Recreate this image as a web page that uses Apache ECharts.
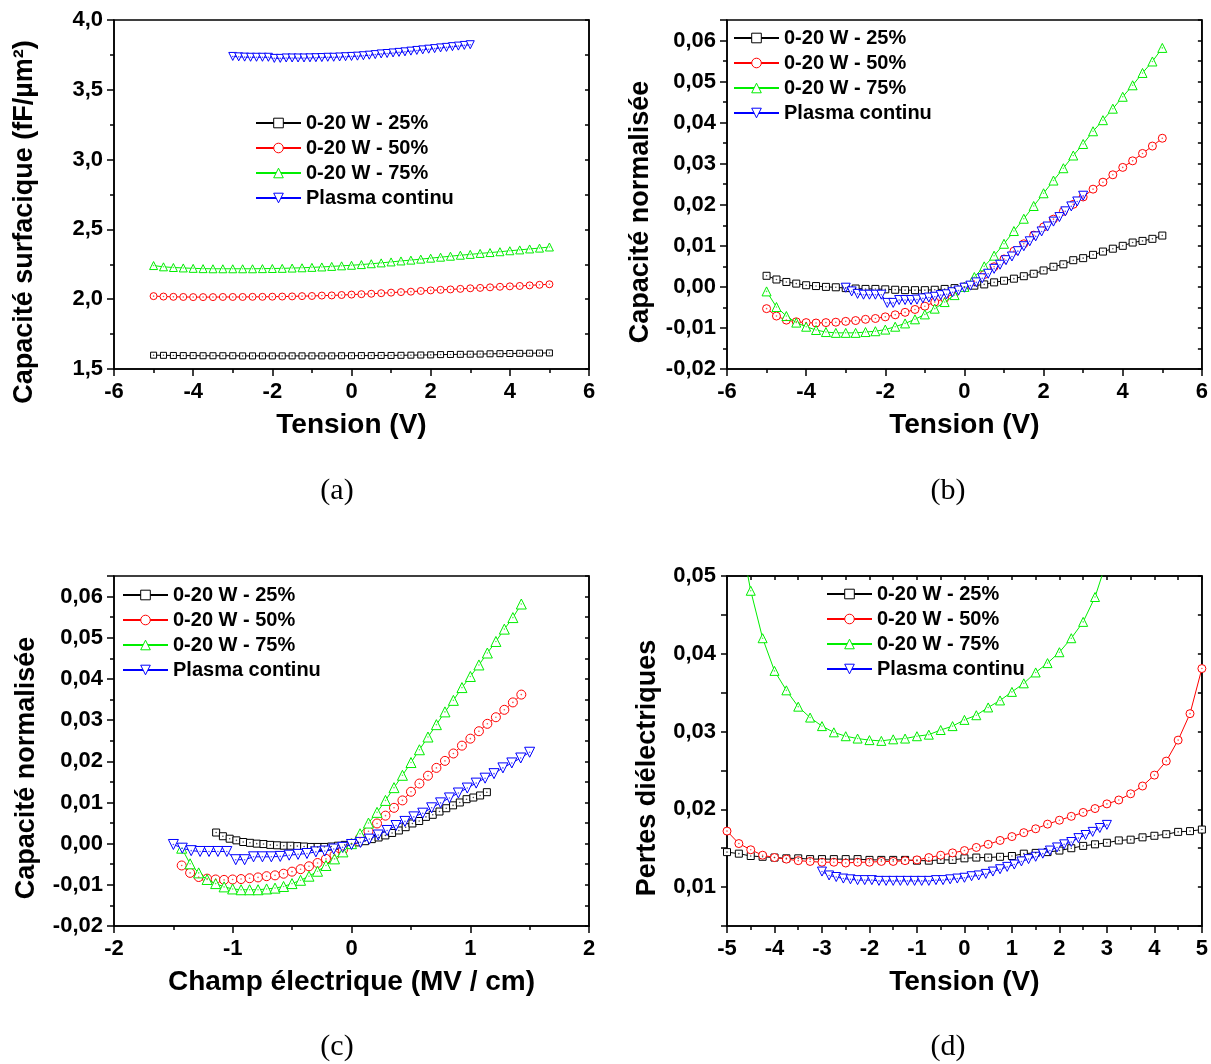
<!DOCTYPE html>
<html>
<head>
<meta charset="utf-8">
<script src="https://cdn.jsdelivr.net/npm/echarts@6/dist/echarts.min.js"></script>
<style>html,body{margin:0;padding:0;background:#fff}#c{width:1211px;height:1064px}</style>
</head>
<body>
<div id="c"></div>
<script>
// ---------- DATA ----------
const names = ['0-20 W - 25%', '0-20 W - 50%', '0-20 W - 75%', 'Plasma continu'];
const colors = ['#000000', '#ff0000', '#00ee00', '#0000ff'];

// voltage grids (V)
const voltage = [-5,-4.75,-4.5,-4.25,-4,-3.75,-3.5,-3.25,-3,-2.75,-2.5,-2.25,-2,-1.75,-1.5,-1.25,-1,-0.75,-0.5,-0.25,0,0.25,0.5,0.75,1,1.25,1.5,1.75,2,2.25,2.5,2.75,3,3.25,3.5,3.75,4,4.25,4.5,4.75,5];
const voltageBlue = [-3,-2.85,-2.7,-2.55,-2.4,-2.25,-2.1,-1.95,-1.8,-1.65,-1.5,-1.35,-1.2,-1.05,-0.9,-0.75,-0.6,-0.45,-0.3,-0.15,0,0.15,0.3,0.45,0.6,0.75,0.9,1.05,1.2,1.35,1.5,1.65,1.8,1.95,2.1,2.25,2.4,2.55,2.7,2.85,3];

// electric field grids (MV/cm)
const field25 = [-1.140,-1.083,-1.026,-0.969,-0.912,-0.855,-0.798,-0.741,-0.684,-0.627,-0.570,-0.513,-0.456,-0.399,-0.342,-0.285,-0.228,-0.171,-0.114,-0.057,0,0.057,0.114,0.171,0.228,0.285,0.342,0.399,0.456,0.513,0.570,0.627,0.684,0.741,0.798,0.855,0.912,0.969,1.026,1.083,1.140];
const field5075 = [-1.430,-1.359,-1.287,-1.216,-1.144,-1.073,-1.001,-0.930,-0.858,-0.787,-0.715,-0.644,-0.572,-0.501,-0.429,-0.358,-0.286,-0.215,-0.143,-0.072,0,0.072,0.143,0.215,0.286,0.358,0.429,0.501,0.572,0.644,0.715,0.787,0.858,0.930,1.001,1.073,1.144,1.216,1.287,1.359,1.430];
const fieldBlue = [-1.5,-1.425,-1.35,-1.275,-1.2,-1.125,-1.05,-0.975,-0.9,-0.825,-0.75,-0.675,-0.6,-0.525,-0.45,-0.375,-0.3,-0.225,-0.15,-0.075,0,0.075,0.15,0.225,0.3,0.375,0.45,0.525,0.6,0.675,0.75,0.825,0.9,0.975,1.05,1.125,1.2,1.275,1.35,1.425,1.5];

// (a) surface capacitance (fF/µm²)
const capA25 = [1.599,1.598,1.597,1.596,1.596,1.595,1.595,1.595,1.595,1.594,1.594,1.594,1.594,1.594,1.594,1.594,1.594,1.594,1.594,1.595,1.595,1.596,1.596,1.597,1.597,1.598,1.599,1.600,1.601,1.603,1.604,1.605,1.606,1.607,1.609,1.610,1.611,1.612,1.613,1.614,1.615];
const capA50 = [2.022,2.019,2.017,2.016,2.015,2.015,2.015,2.016,2.016,2.016,2.017,2.017,2.018,2.019,2.020,2.022,2.023,2.026,2.027,2.030,2.033,2.036,2.039,2.043,2.047,2.051,2.054,2.059,2.063,2.067,2.070,2.074,2.078,2.081,2.085,2.089,2.092,2.095,2.099,2.103,2.107];
const capA75 = [2.241,2.232,2.227,2.224,2.221,2.219,2.218,2.218,2.218,2.218,2.218,2.219,2.220,2.221,2.223,2.225,2.228,2.231,2.235,2.239,2.243,2.248,2.254,2.260,2.267,2.274,2.280,2.287,2.294,2.301,2.308,2.315,2.321,2.328,2.334,2.340,2.347,2.353,2.360,2.366,2.374];
const capAPc = [3.739,3.736,3.734,3.733,3.733,3.733,3.733,3.725,3.725,3.728,3.728,3.728,3.728,3.729,3.730,3.731,3.733,3.733,3.735,3.737,3.739,3.741,3.744,3.748,3.752,3.757,3.760,3.764,3.768,3.772,3.777,3.782,3.786,3.791,3.795,3.800,3.804,3.809,3.813,3.818,3.823];

// (b)/(c) normalised capacitance
const norm25 = [0.0027,0.0018,0.0012,0.0008,0.0004,0.0002,0.0000,-0.0001,-0.0003,-0.0004,-0.0005,-0.0005,-0.0006,-0.0007,-0.0008,-0.0008,-0.0008,-0.0007,-0.0005,-0.0003,0.0000,0.0003,0.0006,0.0011,0.0015,0.0020,0.0026,0.0032,0.0040,0.0049,0.0055,0.0065,0.0070,0.0078,0.0086,0.0093,0.0100,0.0108,0.0112,0.0117,0.0125];
const norm50 = [-0.0053,-0.0071,-0.0081,-0.0085,-0.0087,-0.0088,-0.0087,-0.0086,-0.0084,-0.0082,-0.0079,-0.0077,-0.0073,-0.0068,-0.0062,-0.0055,-0.0047,-0.0037,-0.0028,-0.0015,0,0.0014,0.0030,0.0049,0.0068,0.0087,0.0105,0.0126,0.0146,0.0165,0.0184,0.0201,0.0219,0.0238,0.0255,0.0273,0.0291,0.0307,0.0325,0.0343,0.0362];
const norm75 = [-0.0011,-0.0049,-0.0071,-0.0087,-0.0097,-0.0105,-0.0110,-0.0112,-0.0112,-0.0112,-0.0110,-0.0108,-0.0104,-0.0097,-0.0089,-0.0079,-0.0067,-0.0053,-0.0037,-0.0020,0,0.0024,0.0050,0.0076,0.0105,0.0136,0.0166,0.0197,0.0228,0.0259,0.0289,0.0320,0.0348,0.0379,0.0406,0.0434,0.0463,0.0491,0.0521,0.0549,0.0582];
const normPc = [-0.0002,-0.0011,-0.0017,-0.0019,-0.0019,-0.0019,-0.0019,-0.0039,-0.0039,-0.0032,-0.0032,-0.0032,-0.0031,-0.0028,-0.0026,-0.0024,-0.0020,-0.0018,-0.0013,-0.0009,-0.0002,0.0003,0.0011,0.0021,0.0032,0.0044,0.0054,0.0065,0.0074,0.0087,0.0099,0.0111,0.0123,0.0135,0.0147,0.0159,0.0170,0.0184,0.0196,0.0208,0.0222];

// (d) dielectric losses
const loss25 = [0.0145,0.0143,0.0140,0.0139,0.0138,0.0137,0.0137,0.0136,0.0136,0.0136,0.0136,0.0136,0.0135,0.0135,0.0135,0.0135,0.0134,0.0134,0.0135,0.0135,0.0137,0.0138,0.0138,0.0139,0.0140,0.0143,0.0144,0.0145,0.0147,0.0150,0.0153,0.0155,0.0157,0.0160,0.0161,0.0164,0.0166,0.0168,0.0171,0.0172,0.0174];
const loss50 = [0.0172,0.0156,0.0148,0.0141,0.0138,0.0136,0.0134,0.0133,0.0132,0.0132,0.0131,0.0132,0.0132,0.0133,0.0133,0.0134,0.0135,0.0138,0.0141,0.0144,0.0147,0.0151,0.0155,0.0160,0.0165,0.0170,0.0175,0.0181,0.0186,0.0191,0.0196,0.0201,0.0207,0.0212,0.0220,0.0230,0.0244,0.0262,0.0289,0.0323,0.0381];
const loss75 = [0.066,0.056,0.0481,0.0420,0.0378,0.0353,0.0332,0.0318,0.0307,0.0299,0.0294,0.0291,0.0289,0.0288,0.0290,0.0291,0.0294,0.0296,0.0302,0.0307,0.0315,0.0321,0.0331,0.0340,0.0351,0.0362,0.0376,0.0388,0.0402,0.0420,0.0441,0.0473,0.052,0.058,null,null,null,null,null,null,null];
const lossPc = [0.0120,0.0115,0.0113,0.0111,0.0110,0.0109,0.0109,0.0109,0.0108,0.0108,0.0108,0.0108,0.0108,0.0108,0.0108,0.0108,0.0109,0.0109,0.0110,0.0111,0.0112,0.0114,0.0115,0.0117,0.0120,0.0123,0.0126,0.0129,0.0133,0.0136,0.0139,0.0143,0.0147,0.0151,0.0155,0.0158,0.0163,0.0167,0.0171,0.0176,0.0180];

// ---------- STYLE / LAYOUT ----------
const FONT = '"Liberation Sans", Arial, sans-serif';
const grids = [
  {left: 114, top: 20, width: 475, height: 349},
  {left: 727, top: 20, width: 475, height: 349},
  {left: 114, top: 576, width: 475, height: 350},
  {left: 727, top: 576, width: 475, height: 350}
];
const symbols = ['rect', 'circle', 'triangle', 'triangle'];
const rotations = [0, 0, 0, 180];

function fmtComma(d) { return v => v.toFixed(d).replace('.', ','); }
function onlyMultiples(step, d) {
  return v => {
    const r = v / step;
    if (Math.abs(r - Math.round(r)) > 1e-6) return '';
    return v.toFixed(d).replace('.', ',');
  };
}
const labelStyle = {color: '#000', fontSize: 22, fontWeight: 'bold', fontFamily: FONT};
const axisLineStyle = {color: '#000', width: 1.5};

function xAxisBottom(gi, min, max, interval, minorSplit, name) {
  return {
    type: 'value', gridIndex: gi, position: 'bottom', min, max, interval,
    axisLine: {show: true, onZero: false, lineStyle: axisLineStyle},
    axisTick: {show: true, inside: false, length: 7, lineStyle: axisLineStyle},
    minorTick: {show: true, splitNumber: minorSplit, length: 4, lineStyle: axisLineStyle},
    splitLine: {show: false}, minorSplitLine: {show: false},
    axisLabel: Object.assign({margin: 12, showMinLabel: true, showMaxLabel: true, formatter: v => String(Math.round(v * 1000) / 1000)}, labelStyle),
    name, nameLocation: 'middle', nameGap: 42,
    nameTextStyle: {color: '#000', fontSize: 28, fontWeight: 'bold', fontFamily: FONT}
  };
}
function xAxisTop(gi, min, max, interval, minorSplit) {
  return {
    type: 'value', gridIndex: gi, position: 'top', min, max, interval,
    axisLine: {show: true, onZero: false, lineStyle: axisLineStyle},
    axisTick: {show: true, inside: true, length: 4, lineStyle: axisLineStyle},
    minorTick: {show: true, splitNumber: minorSplit, length: 4, lineStyle: axisLineStyle},
    splitLine: {show: false}, axisLabel: {show: false}
  };
}
function yAxisLeft(gi, min, max, interval, minorSplit, formatter, tickLen) {
  return {
    type: 'value', gridIndex: gi, position: 'left', min, max, interval,
    axisLine: {show: true, onZero: false, lineStyle: axisLineStyle},
    axisTick: {show: true, inside: false, length: tickLen || 7, lineStyle: axisLineStyle},
    minorTick: {show: minorSplit > 1, splitNumber: minorSplit, length: 4, lineStyle: axisLineStyle},
    splitLine: {show: false}, minorSplitLine: {show: false},
    axisLabel: Object.assign({margin: 11, showMinLabel: true, showMaxLabel: true, formatter}, labelStyle)
  };
}
function yAxisRight(gi, min, max, interval, minorSplit) {
  return {
    type: 'value', gridIndex: gi, position: 'right', min, max, interval,
    axisLine: {show: true, onZero: false, lineStyle: axisLineStyle},
    axisTick: {show: true, inside: true, length: 4, lineStyle: axisLineStyle},
    minorTick: {show: minorSplit > 1, splitNumber: minorSplit, length: 4, lineStyle: axisLineStyle},
    splitLine: {show: false}, minorSplitLine: {show: false},
    axisLabel: {show: false}
  };
}

const xAxes = [
  xAxisBottom(0, -6, 6, 2, 2, 'Tension (V)'),
  xAxisBottom(1, -6, 6, 2, 2, 'Tension (V)'),
  xAxisBottom(2, -2, 2, 1, 2, 'Champ électrique (MV / cm)'),
  xAxisBottom(3, -5, 5, 1, 2, 'Tension (V)'),
  xAxisTop(3, -5, 5, 1, 2)
];
const yAxes = [
  yAxisLeft(0, 1.5, 4.0, 0.5, 2, fmtComma(1)),
  yAxisLeft(1, -0.02, 0.065, 0.01, 2, onlyMultiples(0.01, 2)),
  yAxisLeft(2, -0.02, 0.065, 0.01, 2, onlyMultiples(0.01, 2)),
  yAxisLeft(3, 0.005, 0.05, 0.005, 1, onlyMultiples(0.01, 2), 6),
  yAxisRight(0, 1.5, 4.0, 0.5, 2),
  yAxisRight(1, -0.02, 0.065, 0.01, 2),
  yAxisRight(2, -0.02, 0.065, 0.01, 2),
  yAxisRight(3, 0.005, 0.05, 0.005, 1)
];

const series = [];
function addSeries(gi, k, xs, ys, size) {
  const data = xs.map((x, i) => [x, ys[i] === undefined ? null : ys[i]]);
  series.push({
    type: 'line', name: names[k], xAxisIndex: gi, yAxisIndex: gi, data,
    symbol: symbols[k], symbolRotate: rotations[k], symbolSize: size[k], showSymbol: true,
    showAllSymbol: true, connectNulls: false, clip: true,
    lineStyle: {color: colors[k], width: 1},
    itemStyle: {color: '#ffffff', borderColor: colors[k], borderWidth: 1},
    emphasis: {disabled: true}, z: 2 + k * 0.1
  });
  series.push({
    type: 'scatter', name: names[k] + ' dot', xAxisIndex: gi, yAxisIndex: gi, data,
    symbol: 'circle', symbolSize: 1.6, silent: true, clip: true,
    itemStyle: {color: colors[k], opacity: 0.7}, z: 3 + k * 0.1
  });
}
const sizeA = [6, 7, 8, 8];
const sizeB = [7, 8, 9, 9];
const sizeC = [7, 9, 10, 10];
const sizeD = [7, 8, 9, 9];
addSeries(0, 0, voltage, capA25, sizeA);
addSeries(0, 1, voltage, capA50, sizeA);
addSeries(0, 2, voltage, capA75, sizeA);
addSeries(0, 3, voltageBlue, capAPc, sizeA);
addSeries(1, 0, voltage, norm25, sizeB);
addSeries(1, 1, voltage, norm50, sizeB);
addSeries(1, 2, voltage, norm75, sizeB);
addSeries(1, 3, voltageBlue, normPc, sizeB);
addSeries(2, 0, field25, norm25, sizeC);
addSeries(2, 1, field5075, norm50, sizeC);
addSeries(2, 2, field5075, norm75, sizeC);
addSeries(2, 3, fieldBlue, normPc, sizeC);
addSeries(3, 0, voltage, loss25, sizeD);
addSeries(3, 1, voltage, loss50, sizeD);
addSeries(3, 2, voltage, loss75, sizeD);
addSeries(3, 3, voltageBlue, lossPc, sizeD);

function legendAt(left, top) {
  return {
    show: true, orient: 'vertical', left, top, padding: 0, data: names, selectedMode: false,
    itemWidth: 45, itemHeight: 12, itemGap: 5,
    itemStyle: {borderWidth: 1},
    textStyle: {color: '#000', fontSize: 20, fontWeight: 'bold', fontFamily: FONT, lineHeight: 20}
  };
}

function yTitle(text, x, y) {
  return {
    type: 'text', x, y, rotation: Math.PI / 2, silent: true,
    style: {text, fill: '#000', font: 'bold 27px ' + FONT,
      align: 'center', verticalAlign: 'middle', textAlign: 'center', textVerticalAlign: 'middle'}
  };
}
function caption(text, x, y) {
  return {
    type: 'text', x, y, silent: true,
    style: {text, fill: '#000', font: '30px "Liberation Serif", "DejaVu Serif", serif',
      align: 'center', verticalAlign: 'middle', textAlign: 'center', textVerticalAlign: 'middle'}
  };
}

const option = {
  animation: false,
  backgroundColor: '#ffffff',
  grid: grids.map(g => Object.assign({show: true, borderColor: '#000', borderWidth: 1.5, backgroundColor: 'transparent', containLabel: false}, g)),
  xAxis: xAxes,
  yAxis: yAxes,
  legend: [legendAt(255, 113), legendAt(733, 28), legendAt(122, 585), legendAt(826, 584)],
  series,
  graphic: [
    yTitle('Capacité surfacique (fF/µm²)', 25, 222),
    yTitle('Capacité normalisée', 641, 212),
    yTitle('Capacité normalisée', 27, 768),
    yTitle('Pertes diélectriques', 648, 768),
    caption('(a)', 337, 491),
    caption('(b)', 948, 491),
    caption('(c)', 337, 1047),
    caption('(d)', 948, 1047)
  ]
};

const chart = echarts.init(document.getElementById('c'), null, {renderer: 'canvas'});
chart.setOption(option);
</script>
</body>
</html>
